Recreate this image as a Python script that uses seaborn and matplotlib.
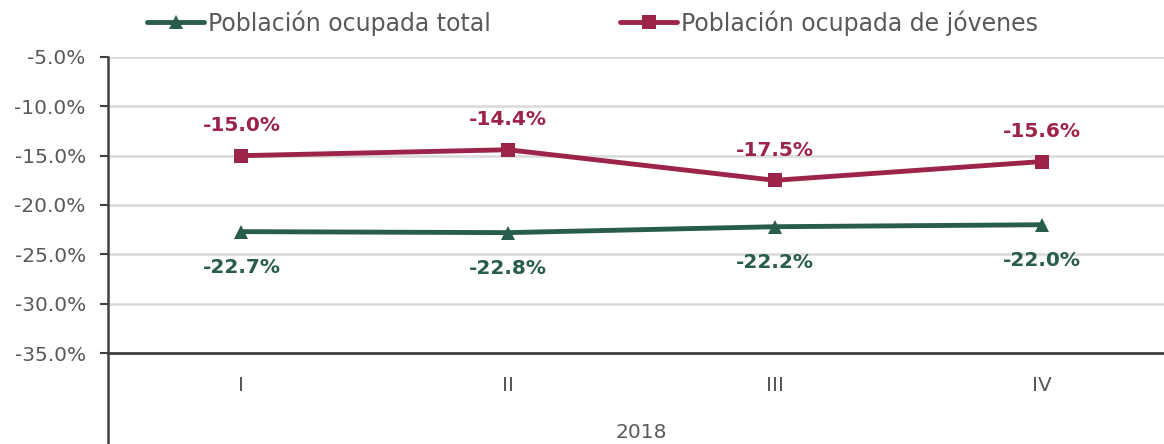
import pandas as pd
import matplotlib.pyplot as plt
import seaborn as sns
from matplotlib.ticker import FuncFormatter

quarters = ['I', 'II', 'III', 'IV']
total = [-22.7, -22.8, -22.2, -22.0]
jovenes = [-15.0, -14.4, -17.5, -15.6]
year = '2018'

green = '#285C4D'
red = '#9D2449'
gray = '#595959'

sns.set_style('white')
plt.rcParams['font.family'] = ['DejaVu Sans']

df = pd.DataFrame({
    'trimestre': quarters * 2,
    'valor': total + jovenes,
    'serie': ['Población ocupada total'] * 4 + ['Población ocupada de jóvenes'] * 4,
})

fig = plt.figure(figsize=(11.64, 4.44), dpi=100)
ax = fig.add_axes([108 / 1164, 1 - 353 / 444, 1067 / 1164, 296 / 444])

sns.lineplot(data=df, x='trimestre', y='valor', hue='serie', style='serie',
             markers={'Población ocupada total': '^', 'Población ocupada de jóvenes': 's'},
             dashes=False, palette={'Población ocupada total': green,
                                    'Población ocupada de jóvenes': red},
             linewidth=3.5, markersize=10, markeredgewidth=0, ax=ax)

for i, v in enumerate(total):
    ax.annotate(f'{v:.1f}%', (i, v), xytext=(0, -36), textcoords='offset pixels',
                ha='center', va='center', color=green, fontsize=14.5, fontweight='bold')
for i, v in enumerate(jovenes):
    ax.annotate(f'{v:.1f}%', (i, v), xytext=(0, 30), textcoords='offset pixels',
                ha='center', va='center', color=red, fontsize=14.5, fontweight='bold')

ax.set_xlim(-0.5, 3.5)
ax.set_ylim(-35, -5)
ax.set_yticks(range(-35, -4, 5))
ax.yaxis.set_major_formatter(FuncFormatter(lambda y, _: f'{y:.1f}%'))
ax.grid(axis='y', color='#D9D9D9', linewidth=1.8)
ax.set_axisbelow(True)
ax.set_xlabel('')
ax.set_ylabel('')

for s in ['top', 'right']:
    ax.spines[s].set_visible(False)
ax.spines['left'].set_color('#404040')
ax.spines['left'].set_linewidth(1.8)
ax.spines['bottom'].set_color('#404040')
ax.spines['bottom'].set_linewidth(2)
ax.tick_params(axis='y', left=True, length=6, width=1.5, color='#404040',
               labelsize=14.5, labelcolor=gray, pad=10)
ax.tick_params(axis='x', bottom=False, labelsize=14.5, labelcolor=gray, pad=13)

# category group divider below the axis
ax.plot([0, 0], [0, -0.31], transform=ax.transAxes, color='#404040',
        linewidth=1.8, clip_on=False)
ax.text(0.5, -0.27, year, transform=ax.transAxes, ha='center', va='center',
        fontsize=14.5, color=gray)

handles, labels = ax.get_legend_handles_labels()
ax.legend(handles, labels, loc='center', bbox_to_anchor=(0.509, 1 - 23 / 444),
          bbox_transform=fig.transFigure, ncol=2, frameon=False, fontsize=17,
          labelcolor=gray, handlelength=2.4, handletextpad=0.15, columnspacing=5.5,
          markerscale=1.0)

fig.savefig('out.png', dpi=100)
